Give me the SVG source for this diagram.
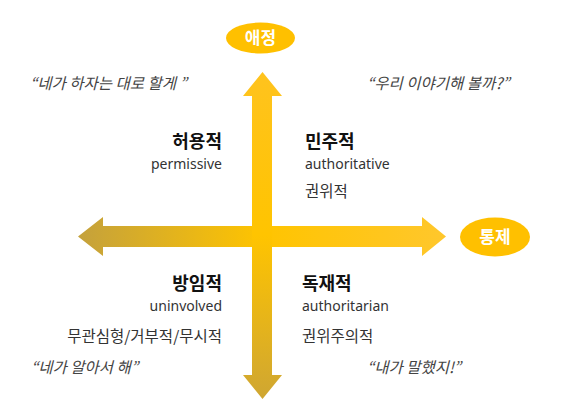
<svg xmlns="http://www.w3.org/2000/svg" width="580" height="409" viewBox="0 0 580 409">
<defs>
<linearGradient id="gv" x1="0" y1="72" x2="0" y2="399" gradientUnits="userSpaceOnUse">
<stop offset="0" stop-color="#FFC31E"/>
<stop offset="0.5" stop-color="#FFC400"/>
<stop offset="1" stop-color="#CFA632"/>
</linearGradient>
<linearGradient id="gh" x1="78" y1="0" x2="446" y2="0" gradientUnits="userSpaceOnUse">
<stop offset="0" stop-color="#C4A13C"/>
<stop offset="0.5" stop-color="#FFC400"/>
<stop offset="1" stop-color="#FFC72C"/>
</linearGradient>
<style>
.t{font-family:"Noto Sans CJK KR","Noto Sans",sans-serif;fill:#222}
.h{font-size:18px;font-weight:bold;fill:#111}
.e{font-size:14px;fill:#333;font-family:"Noto Sans","Noto Sans CJK KR",sans-serif}
.k{font-size:15.5px;fill:#333}
.q{font-size:15.5px;font-style:italic;fill:#444}
.lbl{font-family:"Noto Sans CJK KR",sans-serif;font-size:17px;font-weight:bold;fill:#fff}
.r{text-anchor:end}
</style>
</defs>
<g id="connectors">
<polygon id="axis-h" fill="url(#gh)" points="78,236.5 103,217 103,226 422,226 422,217 446,236.5 422,256 422,247 103,247 103,256"/>
<polygon id="axis-v" fill="url(#gv)" points="262.5,72 282,96 272,96 272,375 282,375 262.5,399 243,375 252,375 252,96 243,96"/>
</g>
<g id="node-affection">
<ellipse cx="260.5" cy="38" rx="34.5" ry="15.5" fill="#FFC000"/>
<text class="lbl" x="260.5" y="44" text-anchor="middle">애정</text>
</g>
<g id="node-control">
<ellipse cx="495" cy="237" rx="35" ry="19.5" fill="#FFC000"/>
<text class="lbl" x="495" y="243" text-anchor="middle">통제</text>
</g>
<g id="node-permissive">
<text class="t h r" x="222" y="148">허용적</text>
<text class="t e r" x="222" y="169">permissive</text>
<text class="t q" x="30" y="89">“네가 하자는 대로 할게 ”</text>
</g>
<g id="node-authoritative">
<text class="t h" x="305" y="148">민주적</text>
<text class="t e" x="305" y="169">authoritative</text>
<text class="t k" x="305" y="197">권위적</text>
<text class="t q" x="367" y="89">“우리 이야기해 볼까?”</text>
</g>
<g id="node-uninvolved">
<text class="t h r" x="222" y="290">방임적</text>
<text class="t e r" x="222" y="311">uninvolved</text>
<text class="t k r" x="222" y="342">무관심형/거부적/무시적</text>
<text class="t q" x="31" y="373">“네가 알아서 해”</text>
</g>
<g id="node-authoritarian">
<text class="t h" x="302" y="290">독재적</text>
<text class="t e" x="302" y="311">authoritarian</text>
<text class="t k" x="302" y="342">권위주의적</text>
<text class="t q" x="367" y="373">“내가 말했지!”</text>
</g>
</svg>
